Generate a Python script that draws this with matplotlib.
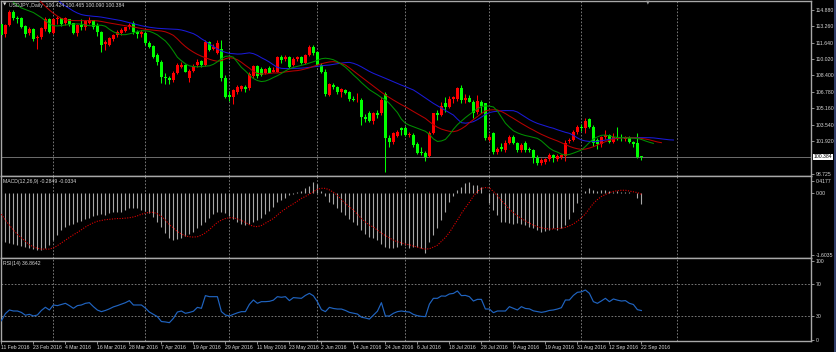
import numpy as np
import matplotlib
matplotlib.use("Agg")
import matplotlib.pyplot as plt
from matplotlib.transforms import blended_transform_factory
from matplotlib.lines import Line2D

plt.rcParams['font.family'] = ['Liberation Sans', 'DejaVu Sans']

W, H = 836, 352

# ---------------- data ----------------
date_labels = ["11 Feb 2016", "23 Feb 2016", "4 Mar 2016", "16 Mar 2016", "28 Mar 2016",
               "7 Apr 2016", "19 Apr 2016", "29 Apr 2016", "11 May 2016", "23 May 2016",
               "2 Jun 2016", "14 Jun 2016", "24 Jun 2016", "6 Jul 2016", "18 Jul 2016",
               "28 Jul 2016", "9 Aug 2016", "19 Aug 2016", "31 Aug 2016", "12 Sep 2016",
               "22 Sep 2016"]
date_bars = [0, 8, 16, 24, 32, 40, 48, 56, 64, 72, 80, 88, 96, 104, 112, 120, 128, 136, 144, 152, 160]
grid_bars = [13, 36, 57, 79, 101, 122, 145, 168.9]

opens = [113.45,112.50,113.40,114.65,114.05,114.10,113.25,112.55,112.94,112.06,
 112.22,112.94,113.93,112.61,113.93,114.03,113.60,113.93,113.53,112.55,
 113.40,113.21,113.60,113.86,113.27,112.71,111.46,111.40,111.96,112.38,
 112.55,112.81,113.21,113.53,112.71,112.45,112.55,111.63,111.30,110.41,
 109.76,108.28,108.15,107.95,108.61,109.26,109.43,108.11,108.84,109.40,
 109.80,109.43,111.73,110.97,110.58,110.97,108.11,106.47,106.31,106.80,
 107.03,107.30,107.13,108.35,109.33,109.00,108.61,109.10,108.77,108.77,
 110.25,109.99,110.18,109.43,109.99,110.18,109.59,110.41,111.17,110.74,
 109.43,108.77,106.47,107.46,107.29,106.80,107.00,106.80,106.11,106.05,
 105.98,104.34,104.67,103.94,104.73,104.70,106.57,102.20,101.80,102.40,
 103.19,103.25,102.50,102.53,101.65,100.90,100.79,100.46,102.70,104.67,
 104.50,105.65,105.32,106.05,106.10,107.20,105.98,106.20,105.82,104.80,
 105.80,105.65,102.04,102.70,100.89,101.38,101.05,101.71,102.37,101.71,
 101.05,101.71,101.20,101.05,100.23,99.80,99.90,100.20,100.56,100.13,
 100.40,100.46,101.90,102.04,102.86,103.35,103.19,104.08,103.35,102.00,
 101.65,102.37,102.53,101.88,102.37,102.25,102.10,102.25,101.80,101.76,
 100.424]
highs = [113.60,113.50,114.85,114.85,114.30,114.20,113.40,113.20,113.10,112.40,
 113.20,114.20,114.10,114.10,114.30,114.10,114.20,114.00,113.60,113.50,
 114.00,113.90,114.20,113.90,113.60,112.80,111.90,112.20,112.50,112.90,
 113.10,113.20,113.60,113.80,112.90,112.90,112.70,111.80,111.40,110.60,
 109.90,108.60,108.30,108.80,109.60,109.70,109.50,109.00,109.50,110.00,
 109.95,111.90,111.80,111.50,111.90,111.90,108.40,106.90,107.10,107.50,
 107.50,107.50,108.70,109.40,109.40,109.20,109.10,109.30,109.20,110.30,
 110.40,110.40,110.30,110.20,110.30,110.30,110.50,111.40,111.40,110.80,
 109.60,109.00,107.70,107.70,107.40,107.20,107.10,106.90,106.40,106.70,
 106.20,104.60,104.90,104.80,105.00,106.30,106.80,102.50,102.80,103.00,
 103.30,103.40,102.80,102.70,101.80,101.40,101.00,102.90,104.70,105.00,
 105.80,106.30,106.40,106.40,107.30,107.50,106.60,106.50,106.00,106.50,
 106.00,105.70,102.60,102.80,101.40,101.70,102.00,102.50,102.50,101.80,
 101.70,101.90,101.40,101.20,100.60,100.30,100.30,100.80,100.70,100.70,
 100.70,102.00,102.20,103.00,103.50,103.60,104.20,104.20,103.50,102.20,
 102.40,103.00,102.60,102.70,103.30,102.60,102.40,102.40,101.90,102.70,
 100.465]
lows = [111.00,112.20,113.30,113.90,113.60,113.10,112.20,112.40,111.80,111.05,
 112.00,112.80,112.60,112.50,113.50,113.30,113.40,113.30,112.50,112.30,
 112.90,112.90,113.50,113.00,112.30,110.74,110.90,111.30,111.80,112.20,
 112.40,112.70,113.00,112.50,112.10,112.20,111.40,111.10,110.10,109.40,
 107.70,107.60,107.60,107.80,108.50,109.10,108.70,107.80,108.70,109.20,
 109.20,109.30,110.80,110.90,110.50,107.90,106.20,105.90,105.55,106.60,
 106.90,106.80,107.00,108.20,108.20,108.30,108.50,108.60,108.70,108.70,
 109.60,109.80,109.10,109.30,109.80,109.50,109.50,110.30,110.40,109.30,
 108.60,106.40,106.40,107.10,106.60,106.30,106.60,105.90,105.90,105.80,
 103.55,103.80,103.80,103.60,104.20,104.50,98.90,101.40,101.60,102.30,
 102.50,102.40,102.30,101.40,100.70,100.60,99.98,100.40,102.60,104.00,
 104.40,104.80,105.20,105.70,105.90,105.70,105.70,105.80,104.20,104.60,
 104.70,102.00,101.90,100.70,100.70,101.00,100.90,101.60,101.60,100.90,
 100.90,100.90,100.90,99.80,99.60,99.55,99.70,100.00,99.90,100.00,
 100.20,99.95,101.70,101.90,102.60,102.90,102.70,103.20,101.50,101.20,
 101.40,102.10,101.70,101.70,102.00,101.90,101.90,101.70,101.40,100.30,
 100.090]
closes = [112.40,113.35,114.65,114.05,113.95,113.20,112.45,112.94,111.96,112.22,
 113.04,113.93,112.71,113.93,114.03,113.47,114.03,113.47,112.61,113.37,
 113.20,113.80,113.86,113.21,112.71,111.40,111.73,112.06,112.38,112.71,
 112.88,113.14,113.37,112.71,112.45,112.71,111.63,111.23,110.25,109.76,
 108.21,108.11,107.95,108.61,109.43,109.43,108.77,108.84,109.30,109.76,
 109.45,111.73,110.91,111.20,111.56,108.11,106.31,106.24,106.97,107.23,
 107.36,107.10,108.54,109.33,108.35,108.44,109.00,108.61,108.94,110.18,
 109.92,110.25,109.26,109.99,110.25,109.59,110.41,111.23,110.64,109.43,
 108.77,106.57,107.56,107.29,106.80,107.10,106.70,106.05,106.00,106.10,
 104.34,104.08,103.94,104.73,104.50,105.98,102.20,101.88,102.70,102.86,
 103.05,102.50,102.60,101.55,100.80,100.73,100.40,102.70,104.67,104.50,
 105.40,105.32,106.11,106.24,107.20,105.98,106.20,105.82,104.67,105.90,
 105.40,102.20,102.37,100.89,101.20,101.20,101.71,102.37,101.71,101.05,
 101.55,101.05,101.10,100.23,99.74,100.07,100.20,100.56,100.23,100.46,
 100.56,101.71,102.04,102.86,103.35,103.19,103.94,103.35,101.71,101.65,
 102.37,102.53,101.88,102.37,102.25,102.20,102.30,101.80,101.60,100.32,
 100.384]

# Alligator lines, each starts at its first visible bar
jaw_start = 14
jaw = [115.9,115.5,115.25,115.0,114.75,114.55,
 114.4,114.32,114.27,114.23,114.2,114.15,114.08,114.0,113.93,113.88,
 113.8,113.7,113.6,113.5,113.4,113.3,113.22,113.15,113.1,113.05,
 113.02,113.0,112.98,112.96,112.94,112.88,112.78,112.65,112.52,112.3,
 112.02,111.78,111.5,111.25,111.0,110.82,110.68,110.58,110.54,110.51,
 110.52,110.58,110.63,110.55,110.38,110.15,109.95,109.72,109.45,109.2,
 109.1,109.08,109.08,109.1,109.1,109.12,109.15,109.2,109.25,109.3,
 109.35,109.4,109.43,109.5,109.56,109.62,109.67,109.69,109.6,109.45,
 109.25,109.02,108.8,108.61,108.45,108.28,108.12,107.95,107.79,107.62,
 107.45,107.3,107.13,106.97,106.72,106.45,106.18,105.9,105.65,105.42,
 105.2,104.97,104.73,104.5,104.1,103.75,103.7,103.75,103.85,104.05,
 104.3,104.55,104.75,104.83,104.88,104.92,104.94,104.94,104.93,104.8,
 104.55,104.3,104.05,103.85,103.68,103.55,103.42,103.3,103.2,103.05,
 102.92,102.8,102.7,102.5,102.25,102.04,101.95,101.9,101.88,101.9,
 101.97,102.05,102.1,102.17,102.22,102.27,102.28,102.28,102.28,102.27,
 102.27,102.27,102.27,102.25,102.2,102.15,102.1,102.06,102.04]
teeth_start = 9
teeth = [116.0,
 115.6,115.2,114.85,114.52,114.25,114.02,113.88,113.83,113.81,113.8,
 113.8,113.8,113.8,113.8,113.78,113.72,113.64,113.57,113.5,113.43,
 113.37,113.3,113.24,113.18,113.1,113.02,112.95,112.9,112.86,112.82,
 112.78,112.7,112.55,112.35,112.0,111.6,111.25,110.95,110.7,110.48,
 110.3,110.15,110.0,109.88,109.8,109.85,110.05,110.15,110.1,109.95,
 109.7,109.4,109.12,108.8,108.6,108.55,108.55,108.6,108.65,108.65,
 108.7,108.75,108.8,108.85,108.88,108.95,109.05,109.15,109.3,109.43,
 109.55,109.65,109.73,109.76,109.7,109.58,109.43,109.15,108.85,108.55,
 108.25,107.95,107.65,107.35,107.05,106.75,106.47,106.22,105.98,105.75,
 105.52,105.32,105.08,104.85,104.62,104.4,104.17,103.85,103.55,103.3,
 103.12,103.0,102.9,102.86,102.95,103.15,103.4,103.75,104.05,104.35,
 104.65,104.9,105.0,105.02,105.0,104.85,104.65,104.4,104.17,103.92,
 103.68,103.45,103.22,103.02,102.8,102.6,102.42,102.25,102.1,101.95,
 101.78,101.6,101.42,101.28,101.18,101.12,101.15,101.25,101.38,101.55,
 101.72,101.88,102.02,102.12,102.2,102.25,102.27,102.27,102.26,102.24,
 102.2,102.14,102.06,101.96,101.85,101.78]
lips_start = 3
lips = [115.6,115.3,115.05,114.9,114.75,114.6,114.35,
 114.1,113.8,113.5,113.3,113.28,113.32,113.37,113.42,113.46,113.48,
 113.45,113.38,113.3,113.3,113.35,113.35,113.25,112.95,112.7,112.55,
 112.42,112.42,112.5,112.6,112.72,112.8,112.8,112.75,112.6,112.4,
 112.1,111.8,111.35,110.8,110.2,109.85,109.55,109.35,109.28,109.25,
 109.28,109.3,109.35,109.5,109.75,110.05,110.28,110.32,110.2,109.7,
 109.2,108.85,108.45,108.1,107.9,107.8,107.85,108.0,108.2,108.38,
 108.6,108.85,109.05,109.2,109.3,109.4,109.5,109.62,109.75,109.9,
 110.05,110.1,110.05,109.95,109.75,109.5,109.22,108.85,108.45,108.1,
 107.7,107.35,107.0,106.75,106.5,106.22,106.0,105.65,105.2,104.75,
 104.1,103.7,103.5,103.35,103.2,103.05,102.9,102.6,102.15,101.9,
 101.95,102.1,102.55,103.1,103.55,103.9,104.25,104.55,104.85,105.1,
 105.35,105.4,105.38,105.3,104.9,104.3,103.7,103.3,102.95,102.75,
 102.6,102.48,102.4,102.3,102.2,101.95,101.6,101.25,101.0,100.85,
 100.65,100.56,100.62,100.75,100.9,101.05,101.4,101.8,102.15,102.35,
 102.5,102.53,102.45,102.35,102.3,102.28,102.26,102.25,102.22,102.2,
 102.1,101.95,101.82,101.71]

macd = [-1.24,-1.26,-1.30,-1.33,-1.34,-1.37,-1.39,-1.41,-1.45,-1.47,
 -1.47,-1.41,-1.34,-1.22,-1.09,-0.96,-0.87,-0.83,-0.81,-0.74,
 -0.72,-0.66,-0.64,-0.59,-0.57,-0.55,-0.57,-0.53,-0.50,-0.50,
 -0.48,-0.44,-0.40,-0.40,-0.40,-0.44,-0.47,-0.53,-0.61,-0.74,
 -0.87,-1.04,-1.16,-1.22,-1.19,-1.16,-1.10,-1.07,-1.00,-0.91,
 -0.84,-0.74,-0.64,-0.55,-0.48,-0.48,-0.53,-0.59,-0.66,-0.74,
 -0.81,-0.83,-0.81,-0.74,-0.70,-0.64,-0.55,-0.47,-0.35,-0.22,
 -0.18,-0.12,-0.05,-0.02,0.02,0.05,0.12,0.19,0.28,0.22,
 0.05,-0.09,-0.22,-0.29,-0.40,-0.48,-0.57,-0.66,-0.74,-0.83,
 -0.96,-1.07,-1.13,-1.17,-1.22,-1.33,-1.39,-1.41,-1.41,-1.39,
 -1.34,-1.34,-1.43,-1.39,-1.39,-1.43,-1.56,-1.26,-1.09,-0.91,
 -0.70,-0.48,-0.22,-0.09,0.08,0.16,0.25,0.28,0.21,0.21,
 0.16,-0.01,-0.27,-0.44,-0.57,-0.74,-0.74,-0.78,-0.81,-0.78,
 -0.81,-0.83,-0.87,-0.91,-0.96,-1.00,-0.98,-0.96,-0.91,-0.96,
 -0.91,-0.83,-0.66,-0.48,-0.27,-0.01,0.05,0.12,0.08,0.05,
 0.08,0.08,0.05,0.03,0.05,0.02,0.03,0.02,-0.01,-0.14,
 -0.2849]
signal = [-0.55,-0.70,-0.83,-0.96,-1.07,-1.16,-1.25,-1.34,-1.39,-1.43,
 -1.45,-1.45,-1.45,-1.42,-1.36,-1.29,-1.22,-1.15,-1.08,-1.02,
 -0.95,-0.88,-0.82,-0.77,-0.73,-0.71,-0.69,-0.68,-0.67,-0.66,
 -0.66,-0.65,-0.64,-0.62,-0.59,-0.55,-0.52,-0.50,-0.50,-0.54,
 -0.60,-0.70,-0.82,-0.90,-1.00,-1.06,-1.11,-1.13,-1.14,-1.13,
 -1.09,-1.03,-0.95,-0.85,-0.76,-0.70,-0.66,-0.64,-0.64,-0.67,
 -0.71,-0.76,-0.82,-0.86,-0.87,-0.84,-0.78,-0.72,-0.66,-0.57,
 -0.48,-0.41,-0.34,-0.28,-0.21,-0.14,-0.09,-0.03,0.03,0.10,
 0.12,0.12,0.08,0.02,-0.06,-0.17,-0.27,-0.36,-0.44,-0.55,
 -0.66,-0.75,-0.83,-0.88,-0.96,-1.04,-1.10,-1.16,-1.22,-1.26,
 -1.29,-1.32,-1.34,-1.37,-1.40,-1.43,-1.45,-1.44,-1.40,-1.35,
 -1.25,-1.15,-1.02,-0.86,-0.70,-0.53,-0.38,-0.24,-0.08,0.04,
 0.12,0.14,0.13,0.04,-0.07,-0.20,-0.30,-0.42,-0.51,-0.59,
 -0.66,-0.72,-0.78,-0.83,-0.87,-0.90,-0.92,-0.93,-0.93,-0.92,
 -0.91,-0.89,-0.85,-0.80,-0.73,-0.64,-0.54,-0.40,-0.27,-0.17,
 -0.09,-0.04,0.01,0.04,0.06,0.07,0.07,0.05,0.03,0.01,
 -0.0334]
rsi = [24,33,37.6,36.3,36.3,34.5,31,32.1,30,31.3,
 37,41,37.6,43.9,43.1,44.5,46,43.1,39.7,43.1,
 43.9,46,46.8,41.8,37.5,35.5,37,39,41.5,43.1,
 45,46.8,49.4,43.9,43.9,43.9,40,35,32.1,29.2,
 23,22.5,21.6,27,35,36.3,33.4,34.5,36,40.9,
 39.7,55.7,54.4,54.4,54.4,35.5,31.3,30,32.1,34,
 35.5,35.5,44.7,50.2,46,48.1,48.1,48.5,50,54.4,
 53.6,54.4,49.4,53.2,52.8,52.3,56,58.6,55.5,48,
 38,35.5,40.9,39.5,38.8,38.8,37,34.6,33.5,32.5,
 28.5,27.5,26.1,31,36,46.8,30,30,33.4,35.5,
 36.3,35.5,35,32,30.4,29.5,29.2,45,52.3,52.3,
 55.3,55,57.8,58.5,61.6,55.7,56,54.4,48.9,51,
 51,38.8,38.8,34.2,36.3,36.3,36.3,41.8,39.7,37.6,
 41.8,39.5,39,36.5,35.5,34.6,35.5,37,37.6,38.8,
 40.5,50.2,50.2,56,59.9,60.5,62.8,58.6,48.1,46,
 49,52.3,48.1,51.5,50,48.9,49.4,46,44.5,38,
 36.9]

price_ticks = [114.880, 113.260, 111.640, 110.020, 108.400, 106.780, 105.160, 103.540, 101.920, 98.725]
last_price = 100.384

header_main = "USDJPY.,Daily  100.424 100.465 100.090 100.384"
header_macd = "MACD(12,26,9) -0.2849 -0.0334"
header_rsi = "RSI(14) 36.8642"

# ---------------- layout ----------------
fig = plt.figure(figsize=(W / 100, H / 100), dpi=100, facecolor='black')

def fx(x):
    return x / W

def fy(y):
    return 1 - y / H

XL, XR = 1.0, 811.3
def add_panel(y0, y1):
    return fig.add_axes([fx(XL), fy(y1), (XR - XL) / W, (y1 - y0) / H])

ax1 = add_panel(1, 176)
ax2 = add_panel(176, 258)
ax3 = add_panel(258, 341)

xlim = ((XL - 1.4) / 4.0, (XR - 1.4) / 4.0)
spine_c = '#a8a8a8'
text_c = '#d8d8d8'
grid_c = '#8a8a8a'
fs = 3.7

for ax in (ax1, ax2, ax3):
    ax.set_facecolor('black')
    ax.set_xlim(*xlim)
    for s in ax.spines.values():
        s.set_color(spine_c)
        s.set_linewidth(1.0)
    ax.yaxis.tick_right()
    ax.tick_params(axis='y', colors=spine_c, labelcolor=text_c, labelsize=fs,
                   length=2, width=0.6, pad=1.2, direction='out')
    ax.tick_params(axis='x', colors=spine_c, labelcolor=text_c, labelsize=fs,
                   length=2, width=0.6, pad=1.0, direction='out')
    for gb in grid_bars:
        ax.axvline(gb, color=grid_c, lw=0.6, ls=(0, (2, 2)), zorder=1)

ax1.set_xticks([])
ax2.set_xticks([])

# ----- main panel -----
O = np.array(opens); Hh = np.array(highs); L = np.array(lows); C = np.array(closes)
Hh = np.maximum(Hh, np.maximum(O, C))
L = np.minimum(L, np.minimum(O, C))
x = np.arange(len(C))
up = C >= O
cols = np.where(up, '#ff0000', '#00ff00')
ax1.set_ylim(98.496, 115.737)
ax1.axhline(last_price, color='#6e6e6e', lw=0.7, zorder=1.5)
ax1.vlines(x, L, Hh, colors=cols, lw=0.75, zorder=2)
body = np.maximum(np.abs(C - O), 0.04)
ax1.bar(x, body, bottom=np.minimum(O, C), width=0.75, color=cols, linewidth=0, zorder=3)

ax1.plot(np.arange(jaw_start, jaw_start + len(jaw)), jaw, color='#1a1ad8', lw=0.75, zorder=4)
ax1.plot(np.arange(teeth_start, teeth_start + len(teeth)), teeth, color='#b80000', lw=0.75, zorder=4)
ax1.plot(np.arange(lips_start, lips_start + len(lips)), lips, color='#009000', lw=0.75, zorder=4)

ax1.set_yticks(price_ticks)
ax1.set_yticklabels([f"{v:.3f}" for v in price_ticks])
blend1 = blended_transform_factory(ax1.transAxes, ax1.transData)
ax1.text(1.0035, last_price, f"{last_price:.3f}", transform=blend1, ha='left', va='center',
         fontsize=fs, color='black', clip_on=False,
         bbox=dict(facecolor='white', edgecolor='none', pad=0.5))

# ----- MACD panel -----
ax2.set_ylim(-1.680, 0.439)
ax2.vlines(x, 0, macd, colors='#a8a8a8', lw=0.8, zorder=2)
ax2.plot(x, signal, color='#e00000', lw=0.8, ls=(0, (1, 1.3)), zorder=3)
ax2.set_yticks([0.31, 0.0, -1.602])
ax2.set_yticklabels(["0.4177", "0.00", "-1.6035"])

# ----- RSI panel -----
ax3.set_ylim(-1.55, 103.19)
for lv in (70, 30):
    ax3.axhline(lv, color=grid_c, lw=0.6, ls=(0, (2, 2)), zorder=1)
ax3.plot(x, rsi, color='#2064c0', lw=0.85, zorder=3)
ax3.set_yticks([100, 70, 30, 0])
ax3.set_yticklabels(["100", "70", "30", "0"])
ax3.set_xticks(date_bars)
ax3.set_xticklabels(date_labels, ha='left')

# ----- headers and frame extras -----
fig.text(fx(2.5), fy(5), "\u25BC", fontsize=3.2, color=text_c, va='center', ha='left',
         family='DejaVu Sans')
fig.text(fx(9), fy(5), header_main, fontsize=fs, color=text_c, va='center', ha='left')
fig.text(fx(3), fy(181.5), header_macd, fontsize=fs, color=text_c, va='center', ha='left')
fig.text(fx(3), fy(263.5), header_rsi, fontsize=fs, color=text_c, va='center', ha='left')
fig.text(fx(648), fy(2.2), "\u25BC", fontsize=3.5, color='#9a9a9a', va='center', ha='center',
         family='DejaVu Sans')
fig.add_artist(Line2D([fx(834.5), fx(834.5)], [0, 1], color='#3a4a80', lw=1.2))

fig.savefig("out.png", dpi=100, facecolor='black')
